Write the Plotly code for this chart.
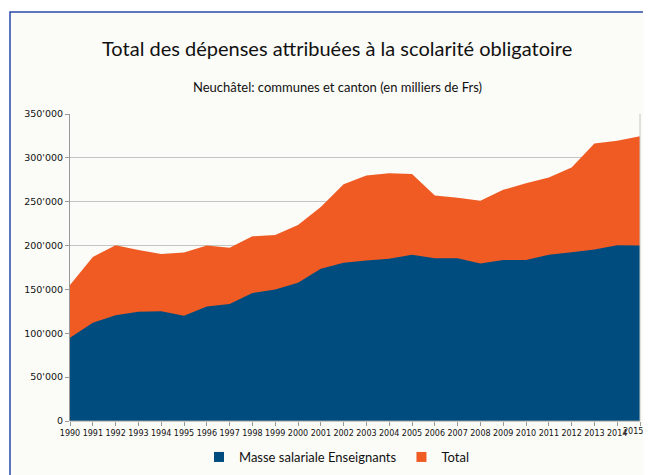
import plotly.graph_objects as go

years = list(range(1990, 2016))
masse = [95, 112, 120.5, 124.5, 125, 120, 130.5, 133.5, 146, 150, 157.5, 173.5,
         180.5, 183, 185, 189.5, 185.5, 185.5, 179.5, 183.5, 183.5, 189.5, 192.5, 195.5, 200.5, 200]
total = [155, 187, 200.5, 195, 190.5, 192, 200, 197.5, 210.5, 212, 223.5, 244,
         270, 280, 282.5, 281.5, 257, 254.5, 251, 263.5, 271, 277.5, 289, 316.5, 319.5, 324.5]
masse = [v * 1000 for v in masse]
total = [v * 1000 for v in total]
ytickvals = [0, 50000, 100000, 150000, 200000, 250000, 300000, 350000]

BLUE = "#004c7f"
ORANGE = "#f05a23"
BG = "#fbfbf7"

fig = go.Figure()
fig.add_trace(go.Scatter(x=years, y=total, name="Total", fill="tozeroy", mode="none",
                         fillcolor=ORANGE, hoverinfo="x+y", showlegend=False))
fig.add_trace(go.Scatter(x=years, y=masse, name="Masse salariale Enseignants", fill="tozeroy",
                         mode="none", fillcolor=BLUE, hoverinfo="x+y", showlegend=False))
fig.add_trace(go.Scatter(x=[None], y=[None], name="Masse salariale Enseignants", mode="markers",
                         marker=dict(symbol="square", size=10, color=BLUE)))
fig.add_trace(go.Scatter(x=[None], y=[None], name="Total", mode="markers",
                         marker=dict(symbol="square", size=10, color=ORANGE)))

OFF = 8  # page body margin
W, H = 651 - OFF, 475 - OFF
L = 70 - OFF
T = 114 - OFF
R = W - (640 - OFF)
B = H - (421 - OFF)
pw, ph = W - L - R, H - T - B

def px(x):  # reference pixel -> paper
    return (x - OFF - L) / pw

def py(y):
    return (H - B - (y - OFF)) / ph

tickfont_x = dict(family="DejaVu Sans", size=8, color="#111")
ticktext = [str(y) for y in years[:-1]] + [""]

fig.update_layout(
    width=W, height=H,
    margin=dict(l=L, r=R, t=T, b=B, autoexpand=False),
    paper_bgcolor="white",
    plot_bgcolor="rgba(0,0,0,0)",
    separators=".'",
    showlegend=True,
    legend=dict(orientation="h", x=px(337), xanchor="center",
                y=py(457), yanchor="middle", font=dict(family="Lato", size=13, color="#111"),
                bgcolor="rgba(0,0,0,0)", itemwidth=30, tracegroupgap=0),
    xaxis=dict(range=[1990, 2015], tickmode="array", tickvals=years, ticktext=ticktext,
               showgrid=False, zeroline=False, showline=False, ticks="outside", ticklen=4,
               tickcolor="#999", tickfont=tickfont_x,
               automargin=False, ticklabeloverflow="allow"),
    yaxis=dict(range=[0, 350000], tickmode="array", tickvals=ytickvals, tickformat=",d",
               showgrid=True, gridcolor="#c4c4c4", gridwidth=1, zeroline=False,
               showline=True, linecolor="#999", ticks="outside", ticklen=4, tickcolor="#999",
               tickfont=dict(family="DejaVu Sans", size=9.5, color="#111"), automargin=False),
    shapes=[
        dict(type="rect", xref="paper", yref="paper", x0=px(10), x1=px(651 + 5), y0=py(12), y1=py(475 + 5),
             fillcolor=BG, line=dict(color="#2a4aa8", width=1.5), layer="below"),
        dict(type="line", xref="paper", yref="paper", x0=1, x1=1, y0=0, y1=1,
             line=dict(color="#c4c4c4", width=1), layer="above"),
        dict(type="line", xref="paper", yref="paper", x0=0, x1=1, y0=0, y1=0,
             line=dict(color="#999", width=1), layer="above"),
    ],
    annotations=[
        dict(text="Total des dépenses attribuées à la scolarité obligatoire", xref="paper", yref="paper",
             x=px(337), y=py(48), xanchor="center", yanchor="middle", showarrow=False,
             font=dict(family="Lato", size=20, color="#111")),
        dict(text="Neuchâtel: communes et canton (en milliers de Frs)", xref="paper", yref="paper",
             x=px(337), y=py(87), xanchor="center", yanchor="middle", showarrow=False,
             font=dict(family="Lato", size=13, color="#111")),
        dict(text=str(years[-1]), xref="x", yref="paper", x=years[-1], y=0, xanchor="right",
             yanchor="top", xshift=4, yshift=-5, showarrow=False, font=tickfont_x,
             borderpad=0, bgcolor="rgba(0,0,0,0)"),
    ],
)

fig.write_html("out.html",
               post_script="document.documentElement.style.overflow='hidden';document.body.style.overflow='hidden';")
